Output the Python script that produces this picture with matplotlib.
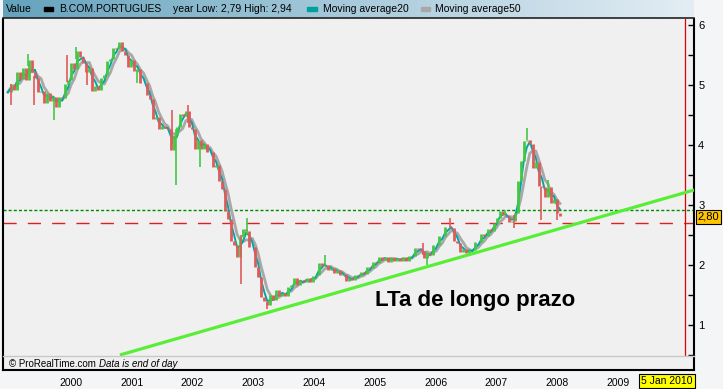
import numpy as np
import pandas as pd
import matplotlib
matplotlib.use("Agg")
import matplotlib.pyplot as plt
from matplotlib.colors import LinearSegmentedColormap
from matplotlib.transforms import ScaledTranslation, blended_transform_factory

W, H = 723, 389

# ---- data ----
first_day, last_day = "1998-11-14", "2007-12-15"
closes = [
    4.88, 5.02, 4.92, 5.22, 5.10, 5.28, 5.08, 5.42, 5.22, 5.12,
    4.88, 4.90, 4.70, 4.86, 4.74, 4.80, 4.64, 4.80, 4.78, 5.02,
    5.08, 5.36, 5.26, 5.56, 5.46, 5.36, 5.22, 5.28, 4.90, 4.98,
    4.92, 5.12, 5.16, 5.40, 5.44, 5.62, 5.60, 5.72, 5.56, 5.50,
    5.30, 5.42, 5.24, 5.26, 5.04, 5.04, 4.84, 4.76, 4.44, 4.46,
    4.26, 4.32, 4.28, 4.26, 3.92, 4.16, 4.30, 4.52, 4.48, 4.56,
    4.30, 4.26, 3.94, 4.08, 3.94, 4.02, 3.88, 3.88, 3.64, 3.66,
    3.40, 3.26, 2.90, 2.76, 2.40, 2.34, 2.14, 2.46, 2.60, 2.56,
    2.30, 2.30, 1.96, 1.80, 1.46, 1.40, 1.34, 1.50, 1.42, 1.58,
    1.49, 1.54, 1.48, 1.64, 1.67, 1.79, 1.67, 1.75, 1.71, 1.79,
    1.72, 1.81, 1.84, 2.04, 1.98, 2.00, 1.92, 1.95, 1.87, 1.91,
    1.83, 1.85, 1.74, 1.78, 1.75, 1.83, 1.81, 1.88, 1.85, 1.96,
    1.95, 2.05, 2.03, 2.13, 2.09, 2.13, 2.05, 2.13, 2.07, 2.11,
    2.07, 2.13, 2.07, 2.15, 2.15, 2.29, 2.26, 2.24, 2.11, 2.20,
    2.17, 2.34, 2.34, 2.49, 2.48, 2.64, 2.63, 2.62, 2.40, 2.36,
    2.21, 2.27, 2.20, 2.25, 2.25, 2.39, 2.38, 2.51, 2.48, 2.60,
    2.56, 2.70, 2.78, 2.90, 2.84, 2.82, 2.71, 2.74, 2.86, 3.40,
    3.74, 4.06, 4.08, 4.02, 3.62, 3.72, 3.32, 3.30, 3.14, 3.30,
    3.04, 3.10, 2.86, 2.82,
]
# wicks that stick out of the bars
spike_days = ["1998-12-03", "1999-03-15", "1999-04-20", "1999-08-18", "1999-11-04",
              "1999-12-28", "2000-03-04", "2000-12-30", "2001-07-28", "2001-08-21",
              "2001-11-01", "2002-01-12", "2002-09-15", "2002-10-21", "2003-02-19",
              "2004-02-01", "2005-09-13", "2005-10-07", "2006-02-22", "2007-01-18",
              "2007-03-13", "2007-05-30", "2007-08-22", "2007-10-03", "2007-11-27"]
spike_values = [4.67, 5.52, 4.67, 4.42, 5.50,
                5.64, 5.00, 5.03, 4.58, 3.33,
                4.67, 3.64, 1.69, 2.78, 1.27,
                2.17, 2.36, 2.00, 2.78, 2.92,
                2.62, 4.28, 2.75, 3.42, 2.75]

trend_days = ["2000-09-18", "2010-03-01"]
trend_values = [0.50, 3.25]
resistance = 2.92
support = 2.70
last_price = 2.80
today = "2010-01-05"
years = list(range(2000, 2010))
y_major = [1, 2, 3, 4, 5, 6]
y_minor = [0.5, 1.5, 2.5, 3.5, 4.5, 5.5]
x_start, x_end = "1998-10-16", "2010-02-28"


def yr(s):
    t = pd.Timestamp(s)
    a = pd.Timestamp(year=t.year, month=1, day=1)
    b = pd.Timestamp(year=t.year + 1, month=1, day=1)
    return t.year + (t - a) / (b - a)


def box(x0, y0, x1, y1):
    return [x0 / W, 1 - y1 / H, (x1 - x0) / W, (y1 - y0) / H]


def ftext(x, y, s, **kw):
    return fig.text(x / W, 1 - y / H, s, **kw)


FONT = "Liberation Sans"
plt.rcParams["font.family"] = [FONT, "DejaVu Sans"]

days = [yr(d) for d in pd.date_range(first_day, last_day, periods=len(closes))]
px = pd.Series(closes)
ma20 = px.rolling(3, min_periods=1).mean()
ma50 = px.rolling(5, min_periods=1).mean()

fig = plt.figure(figsize=(W / 100, H / 100), dpi=100)
fig.patch.set_facecolor("#f4f5f7")

# header bar with legend
hdr = fig.add_axes(box(3, 0, 694, 18))
cmap = LinearSegmentedColormap.from_list("hdr", ["#64a2bc", "#a8cadb", "#e3edf4"])
hdr.imshow(np.linspace(0, 1, 256).reshape(1, -1), aspect="auto", cmap=cmap,
           extent=[0, 1, 0, 1])
hdr.set_xlim(0, 1)
hdr.set_ylim(0, 1)
hdr.axis("off")
fig.add_artist(plt.Line2D([3 / W, 694 / W], [1 - 18 / H] * 2, color="#222222", lw=1.2))

hy = 9
ftext(6, hy, "Value", fontsize=7.5, va="center")
fig.add_artist(plt.Rectangle((44 / W, 1 - 11 / H), 9 / W, 4 / H, color="black"))
ftext(59, hy, "B.COM.PORTUGUES", fontsize=7.5, va="center")
ftext(173, hy, "year Low: 2,79 High: 2,94", fontsize=7.5, va="center")
fig.add_artist(plt.Rectangle((307 / W, 1 - 11 / H), 10 / W, 4 / H, color="#00a0a0"))
ftext(323, hy, "Moving average20", fontsize=7.5, va="center")
fig.add_artist(plt.Rectangle((421 / W, 1 - 11 / H), 9 / W, 4 / H, color="#a8a8a8"))
ftext(435, hy, "Moving average50", fontsize=7.5, va="center")

# main price panel
ax = fig.add_axes(box(3, 19, 694, 356))
ax.set_facecolor("#f0f0f0")
ax.set_xlim(yr(x_start), yr(x_end))
ax.set_ylim(0.483, 6.10)

ax.plot(days, ma50, color="#a8a8a8", lw=2.0, zorder=2)
ax.plot(days, ma20, color="#00a6a6", lw=1.4, zorder=3)

opens = closes[:1] + closes[:-1]
lo = np.minimum(opens, closes)
hi = np.maximum(opens, closes)
cols = ["#44c844" if c >= o else "#e05a5a" for o, c in zip(opens, closes)]
ax.vlines(days, lo, hi, colors=cols, lw=2.0, zorder=4)

sp_x = [yr(d) for d in spike_days]
sp_base = np.interp(sp_x, days, closes)
sp_cols = ["#44c844" if i % 2 else "#e05a5a" for i in range(len(sp_x))]
ax.vlines(sp_x, np.minimum(sp_base, spike_values), np.maximum(sp_base, spike_values),
          colors=sp_cols, lw=1.2, zorder=4)

ax.plot([yr(d) for d in trend_days], trend_values, color="#58ee38", lw=2.3,
        solid_capstyle="butt", zorder=5)
ax.axhline(resistance, color="#008c00", lw=1.0, dashes=(2.2, 1.5), zorder=1)
ax.axhline(support, color="#e02020", lw=1.0, dashes=(9.5, 8), zorder=1)
ax.axvline(yr(today), color="#e00000", lw=0.9, zorder=1)

ax.text(yr("2004-11-28"), 1.317, "LTa de longo prazo", fontsize=16,
        fontweight="bold", va="baseline", zorder=6)

for s in ("top", "bottom"):
    ax.spines[s].set_visible(False)
for s in ("left", "right"):
    ax.spines[s].set_linewidth(1.5)
ax.set_xticks([])
ax.yaxis.tick_right()
ax.set_yticks(y_major)
ax.set_yticks(y_minor, minor=True)
ax.set_yticklabels([str(v) for v in y_major])
ax.tick_params(axis="y", which="both", direction="in", length=4, width=1,
               labelsize=8, pad=3)

tr = blended_transform_factory(ax.transAxes, ax.transData)
ax.annotate("2,80", xy=(1.0, last_price), xycoords=tr, xytext=(2.5, 0),
            textcoords="offset points", ha="left", va="center", fontsize=8,
            annotation_clip=False,
            bbox=dict(boxstyle="square,pad=0.15", fc="#ffc400", ec="black", lw=0.8))

# footer strip with the year axis
axf = fig.add_axes(box(3, 356, 694, 370))
axf.set_facecolor("#f0f0f0")
axf.set_xlim(ax.get_xlim())
axf.set_ylim(0, 1)
axf.set_yticks([])
axf.spines["top"].set_color("#c8c8c8")
axf.spines["top"].set_linewidth(1.0)
for s in ("left", "right", "bottom"):
    axf.spines[s].set_linewidth(1.5)
axf.set_xticks([yr(f"{y}-01-01") for y in years])
axf.set_xticklabels([str(y) for y in years])
axf.tick_params(axis="x", length=0, labelsize=7.5, pad=6)
shift = ScaledTranslation(-5.6 / 100, 0, fig.dpi_scale_trans)
for lab in axf.get_xticklabels():
    lab.set_transform(lab.get_transform() + shift)

axf.text(6 / 691, 0.45, "\u00a9 ProRealTime.com", transform=axf.transAxes,
         fontsize=7, va="center")
axf.text(96 / 691, 0.45, "Data is end of day", transform=axf.transAxes,
         fontsize=7, style="italic", va="center")

ftext(667, 381, "5 Jan 2010", fontsize=7.5, ha="center", va="center",
      bbox=dict(boxstyle="square,pad=0.2", fc="#ffff00", ec="black", lw=0.8))

fig.savefig("out.png", dpi=100, facecolor=fig.get_facecolor())
